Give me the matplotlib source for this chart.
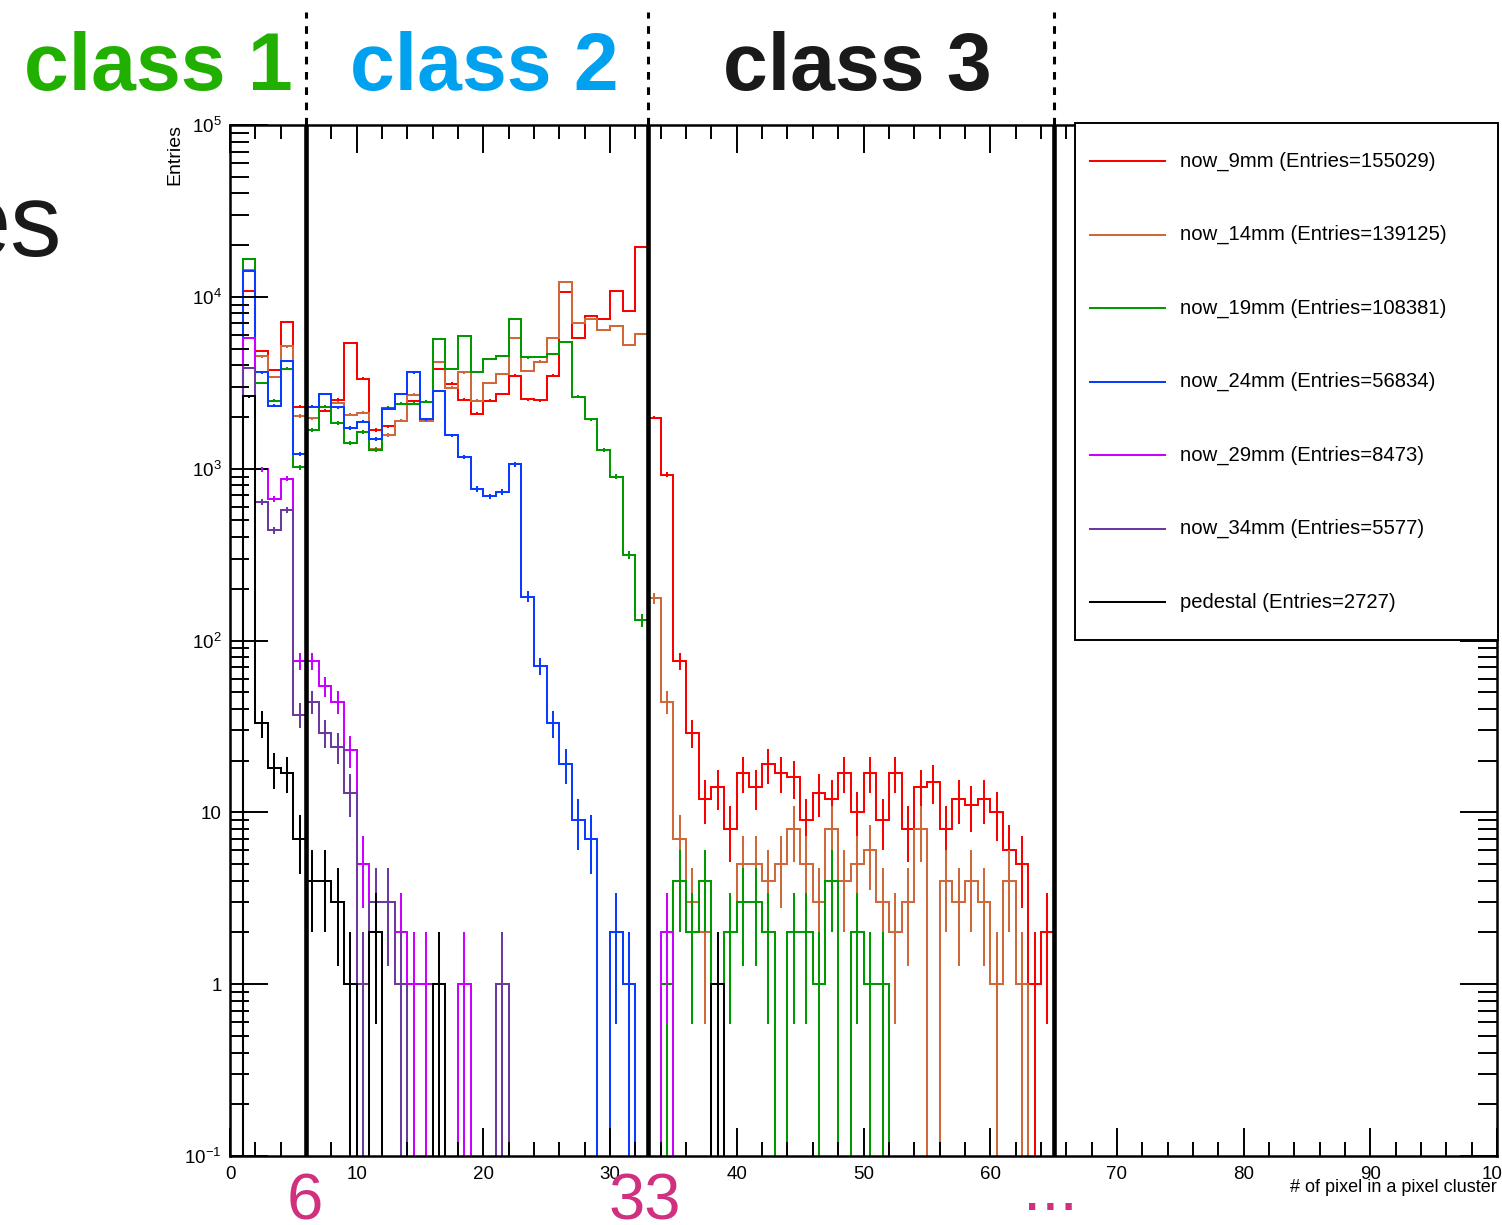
import numpy as np
import matplotlib
matplotlib.use('Agg')
import matplotlib.pyplot as plt
from matplotlib import ticker, transforms
from matplotlib.patches import Rectangle
from matplotlib.lines import Line2D

plt.rcParams['font.family'] = ['Liberation Sans', 'DejaVu Sans']
plt.rcParams['mathtext.fontset'] = 'custom'
plt.rcParams['mathtext.rm'] = 'Liberation Sans'
plt.rcParams['mathtext.it'] = 'Liberation Sans:italic'
plt.rcParams['mathtext.bf'] = 'Liberation Sans:bold'

# bin contents, bins of width 1 starting at x=1 (bin 0 is empty)
now_9mm = [10800, 4850, 3760, 7180, 2300, 2300, 2170, 2520, 5420, 3340,
           1680, 1760, 1900, 2460, 1930, 3800, 3120, 2520, 2090, 2480,
           2720, 3480, 2540, 2500, 3480, 10700, 5750, 7770, 7400, 10800,
           8280, 19600, 1980, 921, 76, 29, 12, 14, 8, 17,
           14, 19, 17, 16, 9, 13, 12, 17, 10, 17,
           9, 17, 8, 14, 15, 8, 12, 11, 12, 10,
           6, 5, 1, 2]
now_14mm = [14400, 4500, 3420, 5140, 2030, 1960, 2720, 2420, 2060, 2120,
            1300, 1570, 1900, 2700, 1900, 4170, 2960, 3630, 2480, 3150,
            3550, 5750, 3710, 4200, 5750, 12200, 7000, 7400, 6440, 6730,
            5250, 6100, 176, 44, 7, 3, 2, 1, 2, 5,
            5, 4, 5, 8, 5, 3, 8, 4, 5, 6,
            3, 2, 3, 8, 0, 4, 3, 4, 3, 1,
            4, 1]
now_19mm = [16600, 3150, 2480, 3820, 1020, 1680, 2300, 1840, 1410, 1630,
            1290, 2260, 2390, 2390, 2450, 5690, 3800, 5930, 3660, 4330,
            4540, 7400, 4440, 4480, 4640, 5450, 2630, 1940, 1290, 895,
            315, 131, 0, 1, 4, 2, 4, 1, 2, 3,
            3, 2, 0, 2, 2, 1, 4, 0, 2, 1,
            1]
now_24mm = [14100, 3630, 2330, 4240, 1220, 2300, 2720, 2280, 1720, 1880,
            1490, 2230, 2720, 3630, 1940, 2830, 1560, 1170, 760, 690,
            730, 1060, 180, 71, 33, 19, 9, 7, 0, 2,
            1]
now_29mm = [5750, 990, 664, 875, 76, 76, 54, 44, 23, 5,
            3, 3, 2, 1, 1, 0, 0, 1, 0, 0,
            0, 0, 0, 0, 0, 0, 0, 0, 0, 0,
            0, 0, 0, 2]
now_34mm = [3850, 638, 437, 576, 37, 44, 29, 24, 13, 1,
            3, 3, 1, 0, 0, 0, 0, 0, 0, 0,
            1]
pedestal = [2640, 33, 18, 17, 7, 4, 4, 3, 1, 0,
            2, 0, 0, 0, 0, 1, 0, 0, 0, 0,
            0, 0, 0, 0, 0, 0, 0, 0, 0, 0,
            0, 0, 0, 0, 0, 0, 0, 1]

series = [now_9mm, now_14mm, now_19mm, now_24mm, now_29mm, now_34mm, pedestal]
labels = ['now_9mm (Entries=155029)', 'now_14mm (Entries=139125)',
          'now_19mm (Entries=108381)', 'now_24mm (Entries=56834)',
          'now_29mm (Entries=8473)', 'now_34mm (Entries=5577)',
          'pedestal (Entries=2727)']
colors = ['#ff0000', '#d0683a', '#009a00', '#0a3cff', '#cc00ff', '#6a3aa0', '#000000']

class_edges = [6, 33, 65]
class_names = ['class 1', 'class 2', 'class 3']
class_colors = ['#22b000', '#00a2f0', '#1a1a1a']
class_xpix = [158, 484, 857]

W, H = 1502, 1225
n_bins = 100
edges = np.arange(0, n_bins + 1)
centers = edges[:-1] + 0.5
floor = 1e-3

fig = plt.figure(figsize=(W / 100, H / 100), dpi=100)
ax = fig.add_axes([230 / W, 1 - 1156 / H, (1497 - 230) / W, (1156 - 125) / H])

for vals, c in zip(series, colors):
    h = np.zeros(n_bins)
    h[1:1 + len(vals)] = vals
    ax.stairs(np.where(h > 0, h, floor), edges, color=c, lw=1.45, baseline=None)
    m = h > 0
    lo = h - np.sqrt(h)
    lo = np.where(lo > 0, lo, floor)
    hi = h + np.sqrt(h)
    ax.vlines(centers[m], lo[m], hi[m], colors=c, lw=1.45)

ax.set_yscale('log')
ax.set_ylim(0.1, 1e5)
ax.set_xlim(0, 100)

def ylab(v, pos):
    e = int(round(np.log10(v)))
    if e == 0:
        return '1'
    if e == 1:
        return '10'
    return r'$\mathregular{10^{%d}}$' % e

ax.yaxis.set_major_locator(ticker.LogLocator(base=10, numticks=10))
ax.yaxis.set_minor_locator(ticker.LogLocator(base=10, subs=np.arange(2, 10), numticks=100))
ax.yaxis.set_major_formatter(ticker.FuncFormatter(ylab))
ax.yaxis.set_minor_formatter(ticker.NullFormatter())
ax.xaxis.set_major_locator(ticker.MultipleLocator(10))
ax.xaxis.set_minor_locator(ticker.MultipleLocator(2))
ax.xaxis.set_major_formatter(ticker.FuncFormatter(lambda v, p: '%d' % v))

ax.tick_params(which='both', direction='in', top=True, right=True, width=1.4, labelsize=13.5)
ax.tick_params(axis='y', which='major', length=27, pad=6)
ax.tick_params(axis='y', which='minor', length=14)
ax.tick_params(axis='x', which='major', length=20, pad=7)
ax.tick_params(axis='x', which='minor', length=10)
for s in ax.spines.values():
    s.set_linewidth(1.8)

# class boundaries
blend = transforms.blended_transform_factory(ax.transData, ax.transAxes)
for xe in class_edges:
    ax.axvline(xe, color='black', lw=3.3, zorder=5)
    ax.plot([xe, xe], [1.0, (1156 - 12) / (1156 - 125)], transform=blend, color='black',
            lw=2.2, ls=(0, (2.5, 2.5)), clip_on=False)

for name, c, xp in zip(class_names, class_colors, class_xpix):
    fig.text(xp / W, 1 - 90 / H, name, color=c, fontsize=58, fontweight='bold',
             ha='center', va='baseline')

# leftover of a slide title, cut at the left edge
fig.text(62 / W, 1 - 256 / H, 'es', fontsize=74, ha='right', va='baseline', color='#1a1a1a')

# axis titles
fig.text(175 / W, 1 - 124 / H, 'Entries', rotation=90, ha='center', va='top', fontsize=14)
fig.text(1497 / W, 1 - 1188 / H, '# of pixel in a pixel cluster', ha='right', va='center',
         fontsize=13)

# bottom annotations
pink = '#d0307f'
fig.text(305 / W, 1 - 1220 / H, '6', color=pink, fontsize=47, ha='center', va='baseline')
fig.text(645 / W, 1 - 1220 / H, '33', color=pink, fontsize=47, ha='center', va='baseline')
fig.text(1050 / W, 1 - 1210 / H, '...', color=pink, fontsize=47, ha='center', va='baseline')

# legend box
fig.add_artist(Rectangle((1075 / W, 1 - 640 / H), (1498 - 1075) / W, (640 - 123) / H,
                         transform=fig.transFigure, facecolor='white', edgecolor='black',
                         lw=1.4, zorder=10))
for i, (lab, c) in enumerate(zip(labels, colors)):
    yp = 1 - (161 + 73.5 * i) / H
    fig.add_artist(Line2D([1090 / W, 1165 / W], [yp, yp], transform=fig.transFigure,
                          color=c, lw=1.45, zorder=11))
    fig.text(1180 / W, yp, lab, va='center', ha='left', fontsize=14.6, zorder=11)

fig.savefig('out.png', dpi=100)
